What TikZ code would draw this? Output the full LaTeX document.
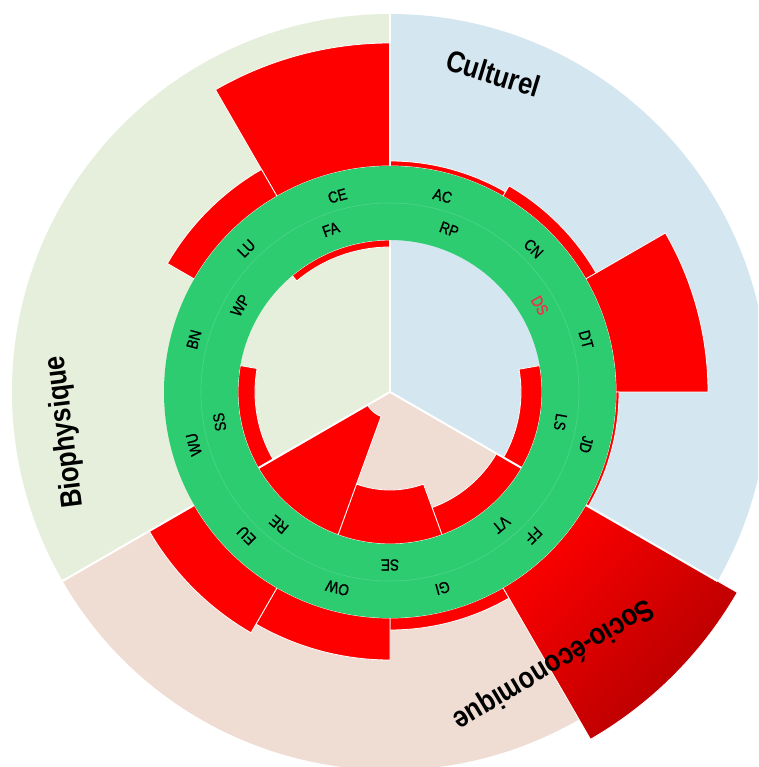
\documentclass[tikz,border=0pt]{standalone}
\usepackage{fontspec}
\setmainfont{Liberation Sans}[FakeStretch=0.85]
\newfontfamily\labfont{Liberation Sans}[FakeStretch=0.85, FakeBold=1]
\definecolor{bioC}{HTML}{E6EFDB}
\definecolor{culC}{HTML}{D4E6F0}
\definecolor{socC}{HTML}{EFDDD4}
\definecolor{ringC}{HTML}{2ECC71}
\definecolor{ringL}{HTML}{4CD588}
\definecolor{barR}{HTML}{FF0000}
\definecolor{barD}{HTML}{B00000}
\definecolor{dsC}{HTML}{F03048}
\begin{document}
\begin{tikzpicture}[x=1pt,y=1pt,
  bar/.style={fill=barR, draw=white, line width=0.8pt},
  lab/.style={font=\labfont\fontsize{16}{16}\selectfont, inner sep=0pt, anchor=center},
  divider/.style={draw=white, line width=2pt},
  titletext/.style={font=\fontsize{30}{30}\selectfont\bfseries, inner sep=0pt, anchor=center}]
\useasboundingbox (-390,-375) rectangle (368,392);
\clip (-390,-375) rectangle (368,392);
\fill[white] (-390,-375) rectangle (368,392);
% sectors
\fill[culC] (0,0) -- (90:378) arc[start angle=90,end angle=-30,radius=378] -- cycle;
\fill[bioC] (0,0) -- (90:378) arc[start angle=90,end angle=210,radius=378] -- cycle;
\fill[socC] (0,0) -- (210:378) arc[start angle=210,end angle=330,radius=378] -- cycle;
% outer bars (30 deg each, from r=226 outward)
\foreach \a/\r in {90/349, 120/257, 60/231, 30/238, 0/318, -30/229, -90/238, -120/268, -150/278}{
  \path[bar] (\a:226) arc[start angle=\a, end angle=\a+30, radius=226] -- (\a+30:\r) arc[start angle=\a+30, end angle=\a, radius=\r] -- cycle;
}
% FF bar with gradient
\shade[top color=barR, bottom color=barD, shading angle=45] (-60:226) arc[start angle=-60, end angle=-30, radius=226] -- (-30:401) arc[start angle=-30, end angle=-60, radius=401] -- cycle;
\draw[white, line width=0.8pt] (-60:226) arc[start angle=-60, end angle=-30, radius=226] -- (-30:401) arc[start angle=-30, end angle=-60, radius=401] -- cycle;
% inner bars (40 deg each, from r=152 inward)
\foreach \a/\r in {90/145, -30/131, -70/123, -110/98, -150/26, 170/135}{
  \path[bar] (\a:\r) arc[start angle=\a, end angle=\a+40, radius=\r] -- (\a+40:152) arc[start angle=\a+40, end angle=\a, radius=152] -- cycle;
}
% dividers
\coordinate (c0) at (0,0);
\coordinate (d1) at (90:378);
\coordinate (d2) at (210:378);
\coordinate (d3) at (330:378);
\draw[divider] (c0) -- (d1);
\draw[divider] (c0) -- (d2);
\draw[divider] (c0) -- (d3);
% green ring
\fill[ringC, even odd rule] (0,0) circle[radius=226] (0,0) circle[radius=152];
\draw[ringL, line width=0.6pt] (0,0) circle[radius=189];
% outer labels
\foreach \n/\a in {CE/105, AC/75, CN/45, DT/15, JD/-15, FF/-45, GI/-75, OW/-105, EU/-135, WU/-165, BN/165, LU/135}{
  \node[lab, rotate=\a-90] (o\n) at (\a:203) {\n};
}
% inner labels
\foreach \n/\a in {FA/110, RP/70, LS/-10, VT/-50, SE/-90, RE/-130, SS/-170, WP/150}{
  \node[lab, rotate=\a-90] (i\n) at (\a:173) {\n};
}
\node[lab, rotate=-60, text=dsC] (iDS) at (30:173) {DS};
% titles
\node[titletext, rotate=-17] (tCul) at (72:335) {Culturel};
\node[titletext, rotate=97] (tBio) at (187:327) {Biophysique};
\node[titletext, rotate=-149] (tSoc) at (-59:317) {Socio-économique};
\end{tikzpicture}
\end{document}
